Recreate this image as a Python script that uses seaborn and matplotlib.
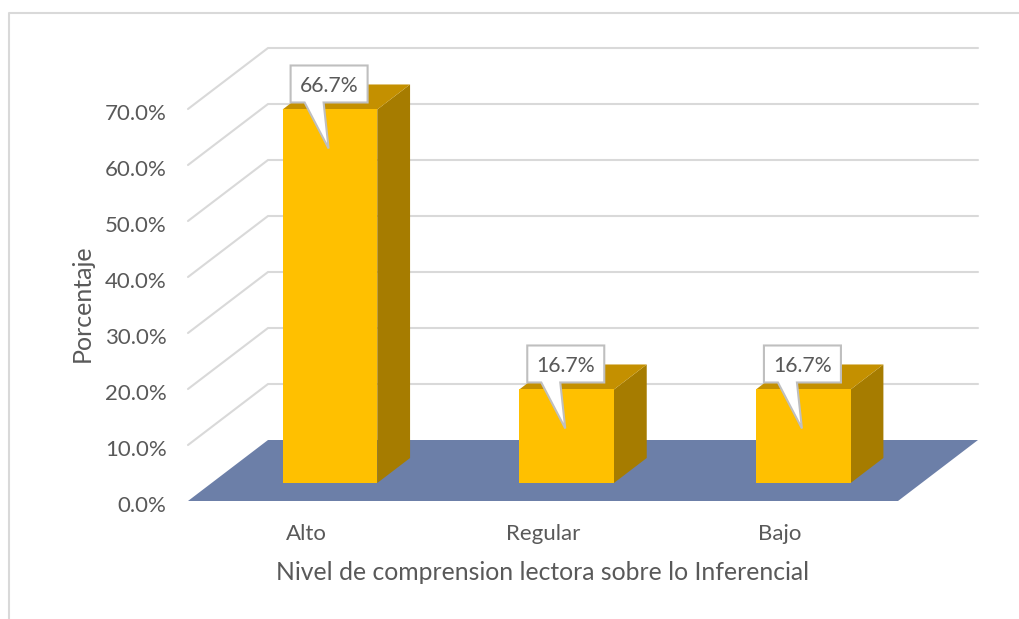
import matplotlib
matplotlib.use("Agg")
import matplotlib.pyplot as plt
import numpy as np
import seaborn as sns
from matplotlib.lines import Line2D
from matplotlib.patches import Polygon
from matplotlib.ticker import PercentFormatter
from matplotlib.transforms import Affine2D, IdentityTransform, ScaledTranslation

categories = ["Alto", "Regular", "Bajo"]
values = [0.667, 0.167, 0.167]
value_labels = ["66.7%", "16.7%", "16.7%"]
y_ticks = [0.0, 0.1, 0.2, 0.3, 0.4, 0.5, 0.6, 0.7]
x_title = "Nivel de comprension lectora sobre lo Inferencial"
y_title = "Porcentaje"

W, H = 1020, 619
TEXT = "#595959"
GRID = "#D9D9D9"

sns.set_theme(style="white")
plt.rcParams["font.family"] = ["Lato", "DejaVu Sans"]

fig = plt.figure(figsize=(W / 100, H / 100), dpi=100, facecolor="white")
# axes = front edge of the floor up to the 70% line
ax = fig.add_axes([188 / W, (H - 501) / H, 710 / W, 392 / H])
sns.barplot(x=categories, y=values, width=0.4, color="#FFC000", saturation=1, ax=ax,
            zorder=5, linewidth=0)
ax.set_xlim(-0.5, 2.5)
ax.set_ylim(0, 0.7)
ax.patch.set_visible(False)
sns.despine(ax=ax, left=True, bottom=True)

# fake 3D: oblique shift in pixels for a depth from 0 (front) to 1 (back)
DX, DY = 80, 61
px = IdentityTransform()


def proj(x, y, d=0.0):
    p = ax.transData.transform((x, y))
    return (p[0] + DX * d, p[1] + DY * d)


def poly(points, color, z):
    ax.add_patch(Polygon(points, closed=True, facecolor=color, edgecolor="none",
                         transform=px, clip_on=False, zorder=z))


bars = list(ax.patches)

# walls grid
for t in y_ticks[1:]:
    pts = [proj(-0.5, t), proj(-0.5, t, 1), proj(2.5, t, 1)]
    ax.add_line(Line2D([p[0] for p in pts], [p[1] for p in pts], color=GRID, lw=1.5,
                       transform=px, clip_on=False, zorder=1))

# floor
poly([proj(-0.5, 0), proj(2.5, 0), proj(2.5, 0, 1), proj(-0.5, 0, 1)], "#6C7FA8", 2)

# bars: seaborn draws the front face, it only gets moved into the floor depth
d0, d1 = 0.295, 0.705
shift = ax.transData + Affine2D().translate(DX * d0, DY * d0)
for i, (bar, v) in enumerate(zip(bars, values)):
    bar.set_transform(shift)
    bar.set_clip_on(False)
    l, r = bar.get_x(), bar.get_x() + bar.get_width()
    poly([proj(r, 0, d0), proj(r, 0, d1), proj(r, v, d1), proj(r, v, d0)], "#A67C00", 4)
    poly([proj(l, v, d0), proj(r, v, d0), proj(r, v, d1), proj(l, v, d1)], "#C49000", 4)

    # callout, drawn in pixels around the top left corner of the bar
    cx, cy = proj(l, v, d0)
    box = np.array([(8, 44), (85, 44), (85, 7), (41, 7), (46, -39), (22, 7), (8, 7)])
    ax.add_patch(Polygon(box + (cx, cy), closed=True, facecolor="white", edgecolor="#BFBFBF",
                         lw=1.5, transform=px, clip_on=False, zorder=6))
    ax.text(cx + 46.5, cy + 23.5, value_labels[i], transform=px, ha="center", va="center",
            fontsize=15.3, color=TEXT, zorder=7)

ax.set_yticks(y_ticks)
ax.yaxis.set_major_formatter(PercentFormatter(xmax=1, decimals=1))
ax.tick_params(axis="y", length=0, pad=15.5, labelsize=16, labelcolor=TEXT)
ax.tick_params(axis="x", length=0, pad=16.5, labelsize=16, labelcolor=TEXT)

# tick labels sit a bit under their gridline ends
down = ScaledTranslation(0, -3 / 100, fig.dpi_scale_trans)
for lab in ax.get_yticklabels():
    lab.set_transform(lab.get_transform() + down)

ax.set_xlabel(x_title, fontsize=17.8, color=TEXT, va="center")
ax.xaxis.set_label_coords(0.5, (501 - 573) / 392)
ax.set_ylabel(y_title, fontsize=18, color=TEXT, va="center")
ax.yaxis.set_label_coords((82 - 188) / 710, (501 - 303) / 392)

# chart frame, only top and left show up in the crop
fig.add_artist(Line2D([9 / W, 9 / W, 1], [0, (H - 13) / H, (H - 13) / H], color=GRID, lw=1.5))

fig.savefig("out.png", dpi=100, facecolor="white")
